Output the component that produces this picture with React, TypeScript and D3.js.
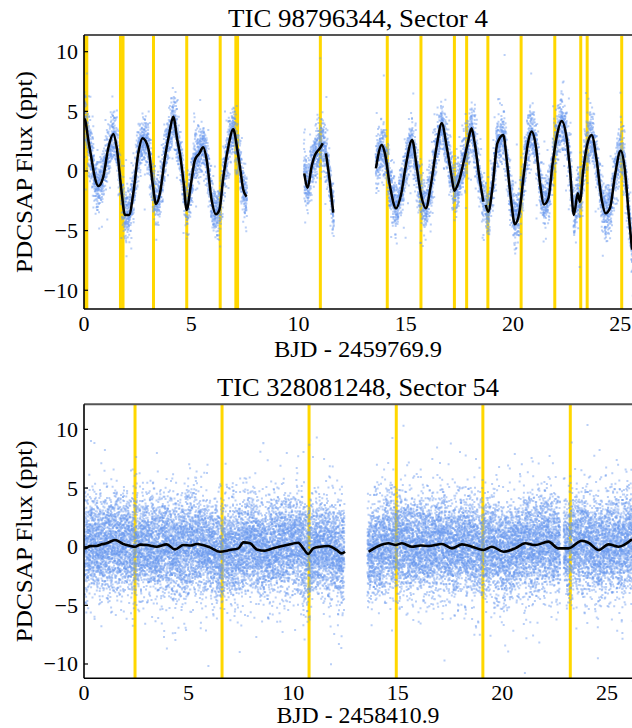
import React from "react";
import * as d3 from "d3";

// ---------------- DATA ----------------
// Sector 4 (TIC 98796344) smoothed trend, segments of [BJD offset, flux ppt]
const s4Trend1: [number, number][] = [
  [0.0, 4.4], [0.05, 4.27], [0.2, 2.6], [0.36, 0.92], [0.5, -0.5], [0.67, -1.26], [0.9, -0.47],
  [1.13, 1.9], [1.37, 3.1], [1.52, 2.04], [1.76, -1.87], [1.91, -3.69], [2.1, -3.69], [2.3, -1.84],
  [2.53, 1.48], [2.73, 2.74], [3.0, 1.9], [3.2, -1.03], [3.36, -2.77], [3.54, -1.87], [3.78, 1.2],
  [3.98, 3.16], [4.16, 4.55], [4.35, 2.6], [4.48, 1.34], [4.63, -0.75], [4.79, -3.27], [4.97, -1.31],
  [5.17, 0.92], [5.38, 1.48], [5.56, 1.98], [5.72, 0.92], [5.95, -2.43], [6.15, -3.63], [6.31, -3.27],
  [6.5, -0.47], [6.73, 2.04], [6.96, 3.49], [7.15, 1.76], [7.27, 0.36], [7.43, -1.59], [7.58, -2.15],
];
const s4Trend2: [number, number][] = [
  [10.27, -0.2], [10.43, -1.4], [10.61, 0.36], [10.77, 1.34], [10.9, 1.7], [11.0, 1.9], [11.13, 2.32],
];
const s4Trend3: [number, number][] = [
  [11.28, 1.48], [11.47, -1.03], [11.62, -3.49],
];
const s4Trend4: [number, number][] = [
  [13.61, 0.22], [13.88, 2.18], [14.03, 1.48], [14.27, -1.31], [14.55, -3.13], [14.78, -2.0],
  [15.0, 0.4], [15.3, 2.6], [15.51, 0.36], [15.7, -1.87], [15.94, -3.13], [16.16, -1.31], [16.44, 2.04],
  [16.68, 4.0], [16.91, 2.04], [17.14, -0.47], [17.26, -1.65], [17.45, -1.03], [17.72, 0.92],
  [17.89, 2.32], [18.07, 3.58], [18.23, 2.18], [18.43, -0.47], [18.62, -2.57],
];
const s4Trend5: [number, number][] = [
  [18.73, -2.85], [18.85, -3.41], [19.05, -1.31], [19.27, 2.32], [19.55, 3.02], [19.71, 0.92],
  [19.91, -2.43], [20.09, -4.47], [20.29, -3.55], [20.51, -0.2], [20.71, 2.46], [20.87, 3.3],
  [21.07, 2.04], [21.26, -1.03], [21.45, -2.8], [21.65, -2.3], [21.85, 0.64], [22.04, 2.88],
  [22.27, 4.19], [22.5, 2.75], [22.66, 0.08], [22.84, -3.69], [23.02, -1.87], [23.12, -2.57],
  [23.28, 0.08], [23.44, 2.04], [23.67, 3.02], [23.9, 0.92], [24.14, -2.43], [24.32, -3.55],
  [24.52, -3.13], [24.76, -0.34], [25.02, 1.7], [25.22, 0.08], [25.38, -3.27], [25.55, -6.6],
];
// Sector 4 observation windows (scatter extent) and yellow event markers
const s4Windows: [number, number][] = [[0, 7.6], [10.25, 11.65], [13.6, 18.66], [18.7, 25.6]];
const s4Events = [0.03, 0.13, 1.7, 1.82, 3.24, 4.79, 6.35, 7.08, 7.16, 11.02, 14.14, 15.71, 17.27,
  17.84, 18.83, 20.38, 21.95, 23.16, 23.46, 25.07];
const s4Sigma = 1.0;
const s4Ticks = [-10, -5, 0, 5, 10];
const s4XTicks = [0, 5, 10, 15, 20, 25];

// Sector 54 (TIC 328081248)
const s54Trend1: [number, number][] = [
  [0, -0.1], [0.05, -0.14], [0.3, 0.05], [0.6, 0.06], [0.85, 0.2], [1.08, 0.29], [1.48, 0.57], [1.88, 0.23],
  [2.15, 0.1], [2.44, 0], [2.7, 0.18], [3.0, 0.14], [3.48, 0], [3.95, 0.2], [4.35, -0.23], [4.75, 0.14],
  [5.1, 0.1], [5.39, 0.23], [6.02, -0.06], [6.5, -0.43], [6.98, -0.28], [7.38, -0.14], [7.62, 0.37],
  [7.94, 0.29], [8.26, -0.23], [8.65, -0.34], [9.05, -0.14], [9.69, 0.14], [10.24, 0.34],
  [10.48, -0.14], [10.72, -0.62], [10.96, -0.14], [11.28, 0], [11.68, 0.06], [12.08, -0.28],
  [12.32, -0.57], [12.48, -0.43],
];
const s54Trend2: [number, number][] = [
  [13.61, -0.43], [14.08, 0.06], [14.56, 0.29], [14.9, 0.15], [15.2, 0.29], [15.68, 0], [16.1, 0.1],
  [16.48, 0.06], [17.11, 0.23], [17.59, -0.14], [18.07, 0.2], [18.55, 0], [19.1, -0.28], [19.5, 0],
  [20.06, -0.43], [20.61, -0.14], [21.09, 0.29], [21.57, 0.14], [22.2, 0.43], [22.68, -0.14],
  [23.16, -0.14], [23.8, 0.51], [24.12, 0.34], [24.6, -0.28], [25.08, 0.2], [25.56, 0], [26.2, 0.63],
];
const s54Windows: [number, number][] = [[0, 12.45], [13.55, 22.77], [22.93, 26.25]];
const s54Events = [2.44, 6.6, 10.76, 14.93, 19.07, 23.25];
const s54Sigma = 2.0;
const s54Ticks = [-10, -5, 0, 5, 10];
const s54XTicks = [0, 5, 10, 15, 20, 25];

// ---------------- helpers ----------------
// deterministic texture for the dense photometric scatter around the trend
function makeGen(seed: number) {
  let s = seed >>> 0;
  return () => {
    s = (s + 0x6d2b79f5) >>> 0;
    let t = s;
    t = Math.imul(t ^ (t >>> 15), t | 1);
    t ^= t + Math.imul(t ^ (t >>> 7), t | 61);
    return ((t ^ (t >>> 14)) >>> 0) / 4294967296;
  };
}

function scatterPaths(
  segs: [number, number][][],
  windows: [number, number][],
  perDay: number,
  sigma: number,
  tailSigma: number,
  x: d3.ScaleLinear<number, number>,
  y: d3.ScaleLinear<number, number>,
  seed: number,
  nPaths: number,
) {
  const all = segs.flat();
  const trend = d3.scaleLinear().domain(all.map((d) => d[0])).range(all.map((d) => d[1])).clamp(true);
  const norm = d3.randomNormal.source(d3.randomLcg(seed / 100000))(0, 1);
  const u = makeGen(seed);
  const paths: string[] = Array.from({ length: nPaths }, () => "");
  let k = 0;
  const [yMin, yMax] = y.domain();
  windows.forEach(([a, b]) => {
    const n = Math.round((b - a) * perDay);
    for (let i = 0; i < n; i++) {
      const t = a + ((i + 0.5) / n) * (b - a);
      const sd = u() < 0.06 ? tailSigma : sigma;
      const f = trend(t) + norm() * sd;
      if (f < yMin || f > yMax) continue;
      const px = x(t) - 1;
      const py = y(f) - 1;
      paths[k % nPaths] += `M${px.toFixed(1)},${py.toFixed(1)}h2v2h-2z`;
      k++;
    }
  });
  return paths;
}

const FONT = "'Liberation Serif', 'Times New Roman', serif";
const BLUE = "#6495ED";
const GOLD = "#FFD700";

type PanelProps = {
  top: number;
  bottom: number;
  xMax: number;
  yDomain: [number, number];
  segs: [number, number][][];
  windows: [number, number][];
  events: number[];
  sigma: number;
  tailSigma: number;
  perDay: number;
  yTicks: number[];
  xTicks: number[];
  title: string;
  titleY: number;
  titleLen: number;
  xLabel: string;
  xLabelY: number;
  xLabelLen: number;
  lineWidth: number;
  seed: number;
  id: string;
};

function Panel(p: PanelProps) {
  const left = 84;
  const right = 632;
  const x = d3.scaleLinear().domain([0, p.xMax]).range([left, right]);
  const y = d3.scaleLinear().domain(p.yDomain).range([p.bottom, p.top]);
  const paths = scatterPaths(p.segs, p.windows, p.perDay, p.sigma, p.tailSigma, x, y, p.seed, 6);
  const line = d3
    .line<[number, number]>()
    .x((d) => x(d[0]))
    .y((d) => y(d[1]))
    .curve(d3.curveMonotoneX);
  const cx = 358;
  return (
    <g>
      <defs>
        <clipPath id={p.id}>
          <rect x={left} y={p.top} width={right - left + 2} height={p.bottom - p.top} />
        </clipPath>
      </defs>
      <g clipPath={`url(#${p.id})`}>
        {p.events.map((e, i) => (
          <line key={i} x1={x(e)} x2={x(e)} y1={p.top} y2={p.bottom} stroke={GOLD} strokeWidth={3} />
        ))}
        {paths.map((d, i) => (
          <path key={i} d={d} fill={BLUE} fillOpacity={0.45} />
        ))}
        {p.segs.map((s, i) => (
          <path key={i} d={line(s) || ""} fill="none" stroke="#000" strokeWidth={p.lineWidth} strokeLinejoin="round" />
        ))}
      </g>
      {/* spines */}
      <line x1={left} x2={right} y1={p.top} y2={p.top} stroke="#555" strokeWidth={2} />
      <line x1={left} x2={right} y1={p.bottom} y2={p.bottom} stroke="#000" strokeWidth={1.6} />
      <line x1={left} x2={left} y1={p.top} y2={p.bottom} stroke="#000" strokeWidth={1.6} />
      {/* y ticks */}
      {p.yTicks.map((t) => (
        <g key={t}>
          <line x1={left} x2={left + 4} y1={y(t)} y2={y(t)} stroke="#000" strokeWidth={1.2} />
          <text x={left - 6} y={y(t)} dy="0.34em" textAnchor="end" fontFamily={FONT} fontSize={22}>
            {t < 0 ? `\u2212${Math.abs(t)}` : t}
          </text>
        </g>
      ))}
      {/* x tick labels */}
      {p.xTicks.map((t) => (
        <text key={t} x={x(t)} y={p.bottom + 22} textAnchor="middle" fontFamily={FONT} fontSize={22}>
          {t}
        </text>
      ))}
      <text x={cx} y={p.titleY} textAnchor="middle" fontFamily={FONT} fontSize={25} textLength={p.titleLen} lengthAdjust="spacingAndGlyphs">
        {p.title}
      </text>
      <text x={cx} y={p.xLabelY} textAnchor="middle" fontFamily={FONT} fontSize={23} textLength={p.xLabelLen} lengthAdjust="spacingAndGlyphs">
        {p.xLabel}
      </text>
      <text
        transform={`translate(32,${(p.top + p.bottom) / 2}) rotate(-90)`}
        textAnchor="middle"
        fontFamily={FONT}
        fontSize={24}
        textLength={202}
        lengthAdjust="spacingAndGlyphs"
      >
        PDCSAP Flux (ppt)
      </text>
    </g>
  );
}

export default function App() {
  return (
    <svg
      width={632}
      height={728}
      style={{ position: "absolute", left: 0, top: 0, background: "#fff" }}
    >
      <rect width={632} height={728} fill="#fff" />
      <Panel
        id="c1"
        top={35}
        bottom={309}
        xMax={25.55}
        yDomain={[-11.57, 11.4]}
        segs={[s4Trend1, s4Trend2, s4Trend3, s4Trend4, s4Trend5]}
        windows={s4Windows}
        events={s4Events}
        sigma={s4Sigma}
        tailSigma={2.2}
        perDay={520}
        yTicks={s4Ticks}
        xTicks={s4XTicks}
        title="TIC 98796344, Sector 4"
        titleY={27}
        titleLen={260}
        xLabel="BJD - 2459769.9"
        xLabelY={357}
        xLabelLen={168}
        lineWidth={2.5}
        seed={12345}
      />
      <Panel
        id="c2"
        top={404.3}
        bottom={678.3}
        xMax={26.2}
        yDomain={[-11.22, 12.14]}
        segs={[s54Trend1, s54Trend2]}
        windows={s54Windows}
        events={s54Events}
        sigma={s54Sigma}
        tailSigma={3.6}
        perDay={900}
        yTicks={s54Ticks}
        xTicks={s54XTicks}
        title="TIC 328081248, Sector 54"
        titleY={396}
        titleLen={282}
        xLabel="BJD - 2458410.9"
        xLabelY={723}
        xLabelLen={163}
        lineWidth={2.6}
        seed={67890}
      />
    </svg>
  );
}
